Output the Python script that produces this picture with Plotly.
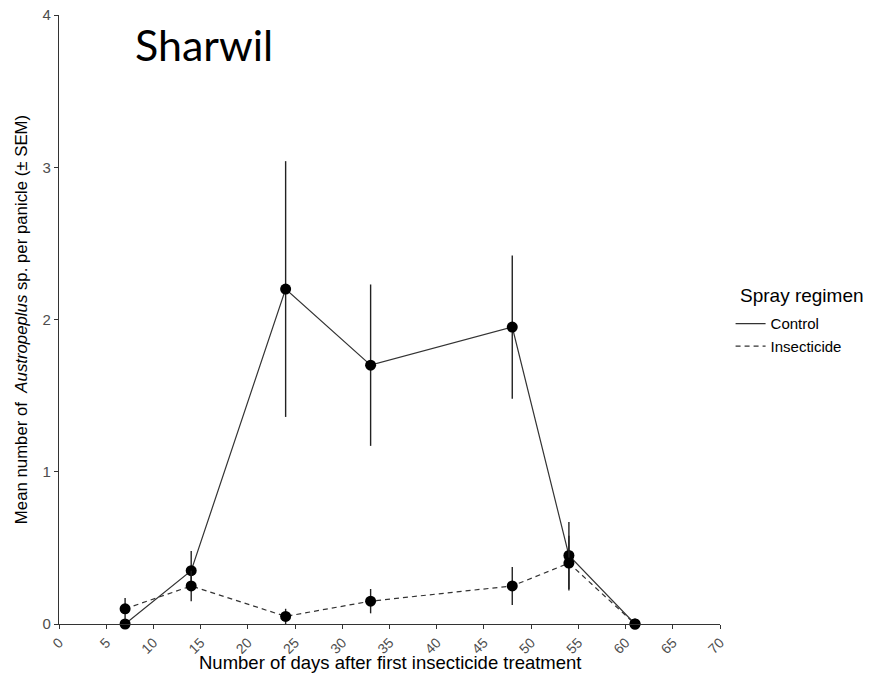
import plotly.graph_objects as go

days = [7, 14, 24, 33, 48, 54, 61]
control_mean = [0.0, 0.35, 2.20, 1.70, 1.95, 0.45, 0.0]
control_sem = [0.0, 0.13, 0.84, 0.53, 0.47, 0.22, 0.0]
insect_mean = [0.10, 0.25, 0.05, 0.15, 0.25, 0.40, 0.0]
insect_sem = [0.07, 0.10, 0.05, 0.08, 0.125, 0.18, 0.0]
x_ticks = list(range(0, 75, 5))
y_ticks = [0, 1, 2, 3, 4]

fig = go.Figure()

fig.add_trace(go.Scatter(
    x=days, y=control_mean, mode="lines+markers", name="Control",
    line=dict(color="#333333", width=1.2, dash="solid"),
    marker=dict(color="black", size=11),
    error_y=dict(type="data", array=control_sem, visible=True, width=0, thickness=1.4, color="#222222"),
    showlegend=False, cliponaxis=False,
))
fig.add_trace(go.Scatter(
    x=days, y=insect_mean, mode="lines+markers", name="Insecticide",
    line=dict(color="#333333", width=1.2, dash="5px,4px"),
    marker=dict(color="black", size=11),
    error_y=dict(type="data", array=insect_sem, visible=True, width=0, thickness=1.4, color="#222222"),
    showlegend=False, cliponaxis=False,
))
# legend entries (lines only)
fig.add_trace(go.Scatter(x=[None], y=[None], mode="lines", name="Control",
                         line=dict(color="#333333", width=1.2, dash="solid")))
fig.add_trace(go.Scatter(x=[None], y=[None], mode="lines", name="Insecticide",
                         line=dict(color="#333333", width=1.2, dash="5px,4px")))

fig.update_layout(
    width=871, height=681,
    margin=dict(l=59, r=151, t=15, b=57),
    plot_bgcolor="white", paper_bgcolor="white",
    font=dict(family="Liberation Sans, Arial, sans-serif", color="black"),
    xaxis=dict(
        range=[0, 70], tickmode="array", tickvals=x_ticks,
        ticktext=[str(v) for v in x_ticks], tickangle=-45,
        showline=True, linecolor="#333333", linewidth=1.2,
        ticks="outside", ticklen=4, tickcolor="#333333",
        showgrid=False, zeroline=False, automargin=False,
        tickfont=dict(size=14, color="#4d4d4d"),
    ),
    yaxis=dict(
        range=[0, 4], tickmode="array", tickvals=y_ticks,
        showline=True, linecolor="#333333", linewidth=1.2,
        ticks="outside", ticklen=4, tickcolor="#333333",
        showgrid=False, zeroline=False, automargin=False,
        tickfont=dict(size=15, color="#4d4d4d"),
        title=dict(text="Mean number of  <i>Austropeplus</i> sp. per panicle (± SEM)",
                   font=dict(size=16.8, color="black"), standoff=10),
    ),
    legend=dict(
        x=1.016, y=0.52, xanchor="left", yanchor="top",
        font=dict(size=15, color="black"),
        bgcolor="rgba(0,0,0,0)", tracegroupgap=0, itemwidth=30,
    ),
    annotations=[
        dict(
            text="Sharwil", x=0.112, y=0.951, xref="paper", yref="paper",
            xanchor="left", yanchor="middle", showarrow=False,
            font=dict(family="Lato, sans-serif", size=43, color="black"),
        ),
        dict(
            text="Number of days after first insecticide treatment",
            x=0.5, y=-0.064, xref="paper", yref="paper",
            xanchor="center", yanchor="middle", showarrow=False,
            font=dict(size=18.5, color="black"),
        ),
        dict(
            text="Spray regimen", x=1.031, y=(624 - 295) / 609,
            xref="paper", yref="paper", xanchor="left", yanchor="middle",
            showarrow=False, xshift=-2,
            font=dict(size=19, color="black"),
        ),
    ],
)

fig.write_html("out.html")
